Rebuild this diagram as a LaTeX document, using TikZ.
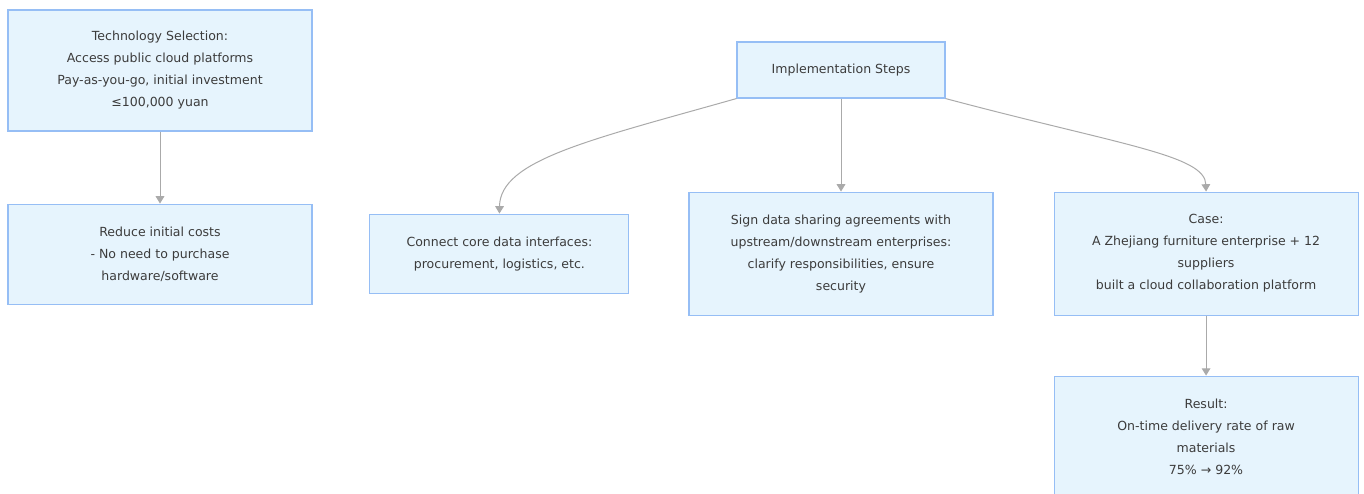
\documentclass[tikz,border=0pt]{standalone}
\usepackage{xcolor}
\usepackage{fontspec}
\setmainfont{DejaVu Sans}
\usepackage{tikz}
\usetikzlibrary{shapes,arrows.meta,positioning}

\definecolor{boxfill}{RGB}{230,244,253}
\definecolor{boxline}{RGB}{150,190,245}
\definecolor{linkgray}{RGB}{170,170,170}
\definecolor{textgray}{RGB}{60,60,60}

\begin{document}
\begin{tikzpicture}[
    x=0.75pt, y=0.75pt,
    >={Triangle[length=5.5pt,width=6.5pt]},
    stage/.style={rectangle, draw=boxline, fill=boxfill, line width=0.8pt, align=center, text=textgray, font=\fontsize{9.4}{16.5}\selectfont, inner sep=0pt},
    wide/.style={stage, minimum width=228pt},
    link/.style={->, draw=linkgray, line width=0.75pt}
]
\useasboundingbox (0,0) rectangle (1364,-493);

% left branch
\node[wide, minimum height=90.75pt] (tech) at (160,-70.5) {Technology Selection:\\Access public cloud platforms\\Pay-as-you-go, initial investment\\≤100,000 yuan};
\node[wide, minimum height=75pt, below=54pt of tech] (reduce) {Reduce initial costs\\- No need to purchase\\hardware/software};

% implementation steps
\node[stage, minimum width=156pt, minimum height=42pt] (impl) at (841,-70) {Implementation Steps};
\node[wide, minimum height=92.25pt, below=69.75pt of impl] (sign) {Sign data sharing agreements with\\upstream/downstream enterprises:\\clarify responsibilities, ensure\\security};
\node[stage, minimum width=194.25pt, minimum height=59.25pt, left=44.25pt of sign] (connect) {Connect core data interfaces:\\procurement, logistics, etc.};
\node[wide, minimum height=92.25pt, right=45pt of sign] (case) {Case:\\A Zhejiang furniture enterprise + 12\\suppliers\\built a cloud collaboration platform};
\node[wide, minimum height=91.5pt, below=45pt of case] (result) {Result:\\On-time delivery rate of raw\\materials\\75\% → 92\%};

\draw[link] (tech) -- (reduce);
\draw[link] (impl.south west) .. controls (590,-140) and (500,-160) .. (connect.north);
\draw[link] (impl) -- (sign);
\draw[link] (impl.south east) .. controls (1120,-145) and (1205,-155) .. (case.north);
\draw[link] (case) -- (result);

\end{tikzpicture}
\end{document}
